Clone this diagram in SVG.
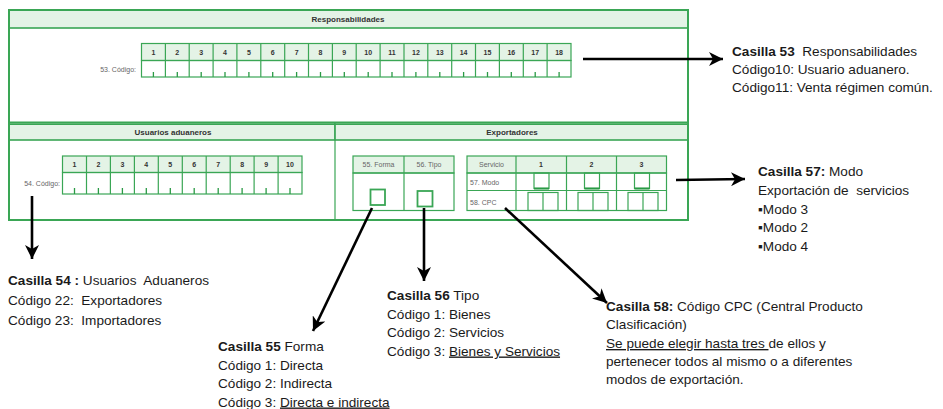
<svg xmlns="http://www.w3.org/2000/svg" width="943" height="409" viewBox="0 0 943 409">
<defs>
<style>
.frame{fill:none;stroke:#3aa655;stroke-width:2}
.grid{fill:none;stroke:#3aa655;stroke-width:1.2}
.hdr{fill:#e4f3e6;stroke:#3aa655;stroke-width:1.2}
.ht{font-family:"Liberation Sans",Arial,sans-serif;font-size:8px;font-weight:bold;fill:#333;text-anchor:middle}
.num{font-family:"Liberation Sans",Arial,sans-serif;font-size:7px;font-weight:bold;fill:#333;text-anchor:middle}
.lbl{font-family:"Liberation Sans",Arial,sans-serif;font-size:7px;fill:#666}
.tick{stroke:#2a9a45;stroke-width:1.3}
.note{font-family:"Liberation Sans",Arial,sans-serif;font-size:13.6px;fill:#1a1a1a}
.b{font-weight:bold}
.u{text-decoration:underline}
.conn{stroke:#000;stroke-width:2.6;fill:none}
</style>
<marker id="ah" markerUnits="userSpaceOnUse" markerWidth="16" markerHeight="14" refX="14" refY="7" orient="auto">
<path d="M0,0 L14,7 L0,14 L4,7 z" fill="#000"/>
</marker>
</defs>

<g id="form">
<rect class="hdr" x="9" y="10" width="679" height="18" stroke="none"/>
<rect class="hdr" x="9" y="123" width="326" height="17" stroke="none"/>
<rect class="hdr" x="335" y="123" width="353" height="17" stroke="none"/>
<rect class="frame" x="9" y="10" width="679" height="210"/>
<line class="grid" x1="9" y1="28" x2="688" y2="28"/>
<line class="frame" x1="9" y1="122.5" x2="688" y2="122.5"/>
<line class="grid" x1="9" y1="124.5" x2="688" y2="124.5"/>
<line class="grid" x1="9" y1="140" x2="688" y2="140"/>
<line class="grid" x1="335" y1="124.5" x2="335" y2="220"/>
<text class="ht" x="348" y="22">Responsabilidades</text>
<text class="ht" x="173" y="135">Usuarios aduaneros</text>
<text class="ht" x="512" y="135">Exportadores</text>
</g>

<g id="casilla53-grid">
<rect class="hdr" x="141.5" y="43.5" width="429.5" height="17"/>
<rect class="grid" x="141.5" y="60.5" width="429.5" height="16.5"/>
<path class="grid" d="M165.4,43.5V77M189.2,43.5V77M213.1,43.5V77M236.9,43.5V77M260.8,43.5V77M284.7,43.5V77M308.5,43.5V77M332.4,43.5V77M356.2,43.5V77M380.1,43.5V77M404,43.5V77M427.8,43.5V77M451.7,43.5V77M475.5,43.5V77M499.4,43.5V77M523.3,43.5V77M547.1,43.5V77"/>
<path class="tick" d="M153.4,72V77M177.3,72V77M201.2,72V77M225,72V77M248.9,72V77M272.7,72V77M296.6,72V77M320.5,72V77M344.3,72V77M368.2,72V77M392,72V77M415.9,72V77M439.8,72V77M463.6,72V77M487.5,72V77M511.3,72V77M535.2,72V77M559.1,72V77"/>
<text class="num" y="55"><tspan x="153.4">1</tspan><tspan x="177.3">2</tspan><tspan x="201.2">3</tspan><tspan x="225">4</tspan><tspan x="248.9">5</tspan><tspan x="272.7">6</tspan><tspan x="296.6">7</tspan><tspan x="320.5">8</tspan><tspan x="344.3">9</tspan><tspan x="368.2">10</tspan><tspan x="392">11</tspan><tspan x="415.9">12</tspan><tspan x="439.8">13</tspan><tspan x="463.6">14</tspan><tspan x="487.5">15</tspan><tspan x="511.3">16</tspan><tspan x="535.2">17</tspan><tspan x="559.1">18</tspan></text>
<text class="lbl" x="136" y="72" text-anchor="end">53. Código:</text>
</g>

<g id="casilla54-grid">
<rect class="hdr" x="62.5" y="156" width="239.5" height="16.5"/>
<rect class="grid" x="62.5" y="172.5" width="239.5" height="21.5"/>
<path class="grid" d="M86.5,156V194M110.4,156V194M134.4,156V194M158.3,156V194M182.3,156V194M206.2,156V194M230.2,156V194M254.1,156V194M278.1,156V194"/>
<path class="tick" d="M74.5,188V194M98.4,188V194M122.4,188V194M146.3,188V194M170.3,188V194M194.2,188V194M218.2,188V194M242.1,188V194M266.1,188V194M290,188V194"/>
<text class="num" y="167"><tspan x="74.5">1</tspan><tspan x="98.4">2</tspan><tspan x="122.4">3</tspan><tspan x="146.3">4</tspan><tspan x="170.3">5</tspan><tspan x="194.2">6</tspan><tspan x="218.2">7</tspan><tspan x="242.1">8</tspan><tspan x="266.1">9</tspan><tspan x="290">10</tspan></text>
<text class="lbl" x="60" y="186" text-anchor="end">54. Código:</text>
</g>

<g id="casilla55-56-box">
<rect class="hdr" x="353" y="156" width="101" height="17"/>
<rect class="grid" x="353" y="173" width="101" height="37.5"/>
<line class="grid" x1="404" y1="156" x2="404" y2="210.5"/>
<text class="lbl" x="378.5" y="167" text-anchor="middle">55. Forma</text>
<text class="lbl" x="429" y="167" text-anchor="middle">56. Tipo</text>
<rect x="370.5" y="189.5" width="14.5" height="15.5" fill="#fff" stroke="#3aa655" stroke-width="1.8"/>
<rect x="417.5" y="191" width="15" height="15.5" fill="#fff" stroke="#3aa655" stroke-width="1.8"/>
</g>

<g id="casilla57-58-box">
<rect class="hdr" x="467" y="156" width="199.5" height="17"/>
<rect class="grid" x="467" y="173" width="199.5" height="37.5"/>
<line class="grid" x1="467" y1="190.5" x2="666.5" y2="190.5"/>
<path class="grid" d="M516,156V210.5M566.5,156V210.5M616.5,156V210.5"/>
<text class="lbl" x="491.5" y="167" text-anchor="middle" fill="#333">Servicio</text>
<text class="num" y="167"><tspan x="541">1</tspan><tspan x="591.5">2</tspan><tspan x="641.5">3</tspan></text>
<text class="lbl" x="470" y="185">57. Modo</text>
<text class="lbl" x="470" y="205">58. CPC</text>
<g class="grid">
<rect x="534" y="173" width="15" height="15.5"/>
<rect x="584.5" y="173" width="15" height="15.5"/>
<rect x="634.5" y="173" width="15" height="15.5"/>
<rect x="528" y="192.5" width="30" height="18"/>
<line x1="543" y1="192.5" x2="543" y2="210.5"/>
<rect x="578" y="192.5" width="30" height="18"/>
<line x1="593" y1="192.5" x2="593" y2="210.5"/>
<rect x="628" y="192.5" width="30" height="18"/>
<line x1="643" y1="192.5" x2="643" y2="210.5"/>
</g>
<path stroke="#2a9a45" stroke-width="2" d="M534,188.5H549M584.5,188.5H599.5M634.5,188.5H649.5"/>
</g>

<g id="connectors">
<line class="conn" x1="583" y1="59" x2="723" y2="59" marker-end="url(#ah)"/>
<line class="conn" x1="676" y1="180" x2="745" y2="179" marker-end="url(#ah)"/>
<line class="conn" x1="32" y1="196" x2="32" y2="259" marker-end="url(#ah)"/>
<line class="conn" x1="372" y1="208" x2="313" y2="331" marker-end="url(#ah)"/>
<line class="conn" x1="424" y1="208" x2="424" y2="281" marker-end="url(#ah)"/>
<line class="conn" x1="505" y1="208" x2="607" y2="303" marker-end="url(#ah)"/>
</g>

<g id="note53">
<text class="note"><tspan x="732" y="56"><tspan class="b">Casilla 53</tspan>&#160; Responsabilidades</tspan><tspan x="732" y="74">Código10: Usuario aduanero.</tspan><tspan x="732" y="92">Código11: Venta régimen común.</tspan></text>
</g>
<g id="note57">
<text class="note"><tspan x="758" y="176"><tspan class="b">Casilla 57:</tspan> Modo</tspan><tspan x="758" y="195">Exportación de&#160; servicios</tspan><tspan x="758" y="213.5">▪Modo 3</tspan><tspan x="758" y="232">▪Modo 2</tspan><tspan x="758" y="250.5">▪Modo 4</tspan></text>
</g>
<g id="note54">
<text class="note"><tspan x="8" y="285"><tspan class="b">Casilla 54 :</tspan> Usuarios&#160; Aduaneros</tspan><tspan x="8" y="305">Código 22:&#160; Exportadores</tspan><tspan x="8" y="325">Código 23:&#160; Importadores</tspan></text>
</g>
<g id="note56">
<text class="note"><tspan x="387" y="299.5"><tspan class="b">Casilla 56</tspan> Tipo</tspan><tspan x="387" y="318.5">Código 1: Bienes</tspan><tspan x="387" y="337">Código 2: Servicios</tspan><tspan x="387" y="355.5">Código 3: <tspan class="u">Bienes y Servicios</tspan></tspan></text>
</g>
<g id="note55">
<text class="note"><tspan x="218" y="350.5"><tspan class="b">Casilla 55</tspan> Forma</tspan><tspan x="218" y="369.5">Código 1: Directa</tspan><tspan x="218" y="388">Código 2: Indirecta</tspan><tspan x="218" y="406.5">Código 3: <tspan class="u">Directa e indirecta</tspan></tspan></text>
</g>
<g id="note58">
<text class="note"><tspan x="606" y="311"><tspan class="b">Casilla 58:</tspan> Código CPC (Central Producto</tspan><tspan x="606" y="329">Clasificación)</tspan><tspan x="606" y="348"><tspan class="u">Se puede elegir hasta tres </tspan>de ellos y</tspan><tspan x="606" y="366">pertenecer todos al mismo o a diferentes</tspan><tspan x="606" y="384">modos de exportación.</tspan></text>
</g>
</svg>
